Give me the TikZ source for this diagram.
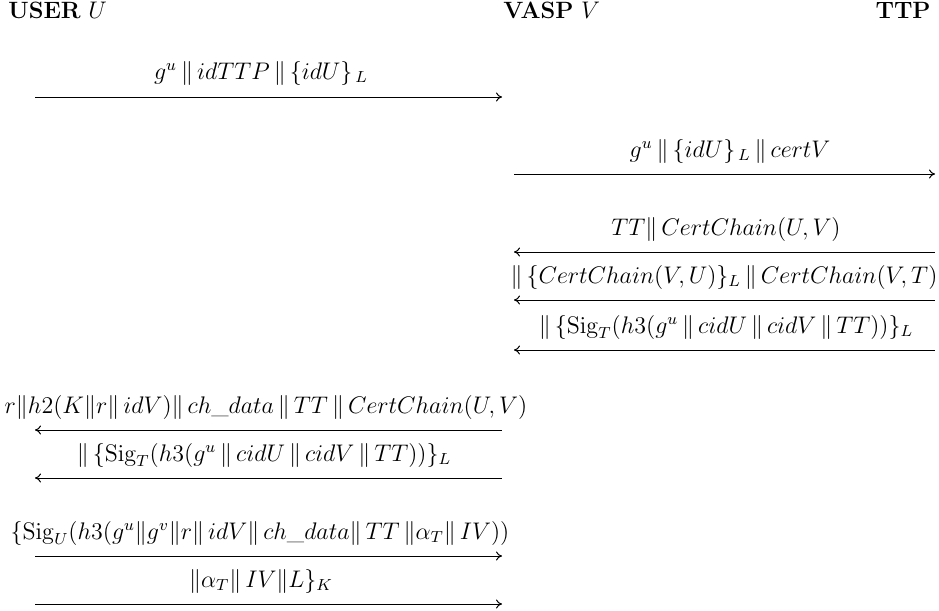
\documentclass[tikz,border=0pt]{standalone}
\usetikzlibrary{arrows.meta}
\begin{document}
\begin{tikzpicture}[x=0.5pt,y=-0.5pt,
  every node/.style={font=\fontsize{11.8pt}{14pt}\selectfont},
  msg/.style={line width=0.5pt},
  rmsg/.style={msg,-{To[length=3pt,width=4.5pt]}},
  lmsg/.style={msg,{To[length=3pt,width=4.5pt]}-},
  lbl/.style={inner sep=0pt,anchor=base},
  hdr/.style={inner sep=0pt,anchor=base west}]
\useasboundingbox (0,0) rectangle (939,611);
% headers
\node[hdr] (hu) at (8,18) {\textbf{USER} $U$};
\node[hdr] (hv) at (503,18) {\textbf{VASP} $V$};
\node[inner sep=0pt,anchor=base east] (ht) at (931,18) {\textbf{TTP}};
% message 1
\coordinate (u1) at (35,97); \coordinate (v1) at (502,97);
\node[lbl] (m1) at (261,79) {$g^u\,\|\,idTTP\,\|\,\{idU\}_{\,L}$};
\draw[rmsg] (u1) -- (v1);
% message 2
\coordinate (v2) at (514,174); \coordinate (t2) at (935,174);
\node[lbl] (m2) at (730,157) {$g^u\,\|\,\{idU\}_{\,L}\,\|\,certV$};
\draw[rmsg] (v2) -- (t2);
% message 3
\coordinate (v3) at (514,252); \coordinate (t3) at (935,252);
\node[lbl] (m3) at (726,235) {$TT\|\,CertChain(U,V)$};
\draw[lmsg] (v3) -- (t3);
\coordinate (v4) at (514,300); \coordinate (t4) at (935,300);
\node[lbl] (m4) at (724,283) {$\|\,\{CertChain(V,U)\}_L\,\|\,CertChain(V,T)$};
\draw[lmsg] (v4) -- (t4);
\coordinate (v5) at (514,350); \coordinate (t5) at (935,350);
\node[lbl] (m5) at (726,333) {$\|\,\{\mathrm{Sig}_T(h3(g^u\,\|\,cidU\,\|\,cidV\,\|\,TT))\}_L$};
\draw[lmsg] (v5) -- (t5);
% message 4
\coordinate (u6) at (35,430); \coordinate (v6) at (502,430);
\node[lbl] (m6) at (266,413) {$r\|h2(K\|r\|\,idV)\|\,ch\_data\,\|\,TT\,\|\,CertChain(U,V)$};
\draw[lmsg] (u6) -- (v6);
\coordinate (u7) at (35,478); \coordinate (v7) at (502,478);
\node[lbl] (m7) at (264,461) {$\|\,\{\mathrm{Sig}_T(h3(g^u\,\|\,cidU\,\|\,cidV\,\|\,TT))\}_L$};
\draw[lmsg] (u7) -- (v7);
% message 5
\coordinate (u8) at (35,556); \coordinate (v8) at (502,556);
\node[lbl] (m8) at (260,539) {$\{\mathrm{Sig}_U(h3(g^u\|g^v\|r\|\,idV\|\,ch\_data\|\,TT\,\|\alpha_T\|\,IV))$};
\draw[rmsg] (u8) -- (v8);
\coordinate (u9) at (35,604); \coordinate (v9) at (502,604);
\node[lbl] (m9) at (261,587) {$\|\alpha_T\|\,IV\|L\}_K$};
\draw[rmsg] (u9) -- (v9);
\end{tikzpicture}
\end{document}
